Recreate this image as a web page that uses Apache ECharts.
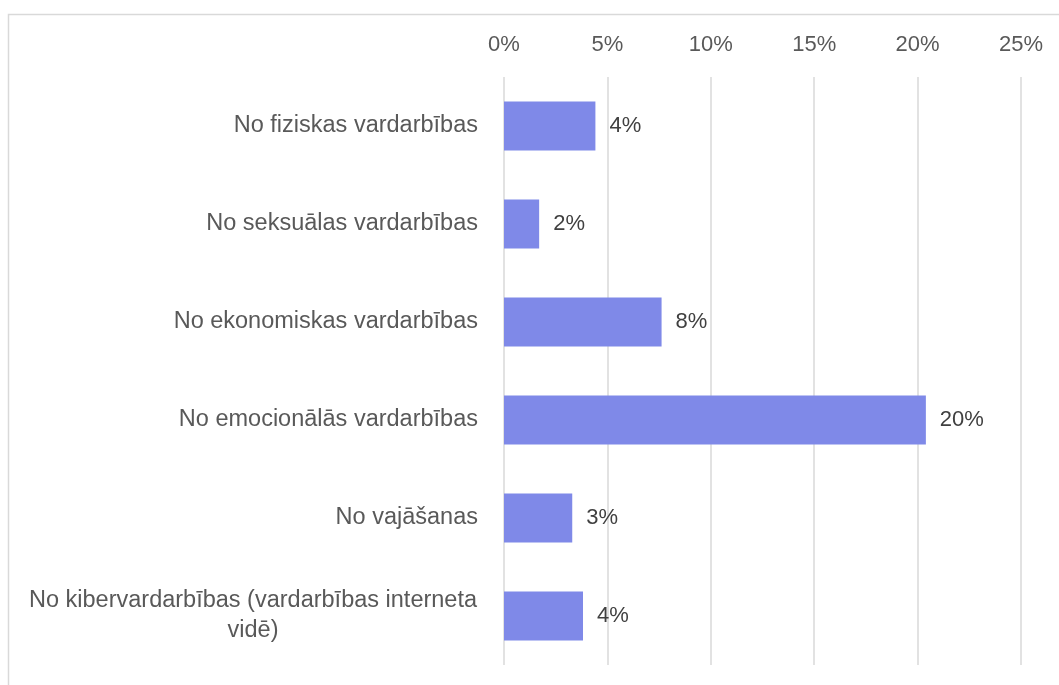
<!DOCTYPE html>
<html>
<head>
<meta charset="utf-8">
<script src="https://cdn.jsdelivr.net/npm/echarts@6/dist/echarts.min.js"></script>
<style>
  html, body { margin: 0; padding: 0; background: #fff; }
  #chart { width: 1059px; height: 685px; }
</style>
</head>
<body>
<div id="chart"></div>
<script>
// kategorijas (no augšas uz leju)
const categories = [
  'No fiziskas vardarbības',
  'No seksuālas vardarbības',
  'No ekonomiskas vardarbības',
  'No emocionālās vardarbības',
  'No vajāšanas',
  'No kibervardarbības (vardarbības interneta\nvidē)'
]
// vērtības procentos
const values = [4.42, 1.7, 7.62, 20.4, 3.3, 3.82]
const tickMax = 25
const tickStep = 5

const chart = echarts.init(document.getElementById('chart'))

// divrindu nosaukumus centrē vienā blokā
function catLabel (v) {
  const lines = v.split('\n')
  if (lines.length === 1) return v
  return lines.map(s => '{w|' + s + '}').join('\n')
}

const option = {
  backgroundColor: '#fff',
  textStyle: { fontFamily: 'Liberation Sans, Arial, sans-serif' },
  graphic: [{
    type: 'rect',
    shape: { x: 8.5, y: 14.5, width: 1200, height: 900 },
    style: { fill: 'none', stroke: '#d9d9d9', lineWidth: 1.5 },
    silent: true
  }],
  grid: { left: 504, right: 38, top: 77, bottom: 20, containLabel: false },
  xAxis: {
    type: 'value',
    position: 'top',
    min: 0,
    max: tickMax,
    interval: tickStep,
    axisLine: { show: false },
    axisTick: { show: false },
    axisLabel: {
      formatter: v => v + '%',
      color: '#595959',
      fontSize: 22,
      margin: 21
    },
    splitLine: { lineStyle: { color: '#d9d9d9', width: 1.5 } }
  },
  yAxis: {
    type: 'category',
    inverse: true,
    data: categories,
    axisLine: { show: false },
    axisTick: { show: false },
    axisLabel: {
      color: '#595959',
      fontSize: 23.5,
      margin: 26,
      formatter: catLabel,
      rich: {
        w: { color: '#595959', fontSize: 23.5, width: 450, align: 'center', lineHeight: 30 }
      }
    }
  },
  series: [{
    type: 'bar',
    data: values,
    barCategoryGap: '50%',
    itemStyle: { color: '#7f89e8' },
    label: {
      show: true,
      position: 'right',
      distance: 14,
      color: '#404040',
      fontSize: 22,
      formatter: p => Math.round(p.value) + '%'
    }
  }]
}

chart.setOption(option)
</script>
</body>
</html>
